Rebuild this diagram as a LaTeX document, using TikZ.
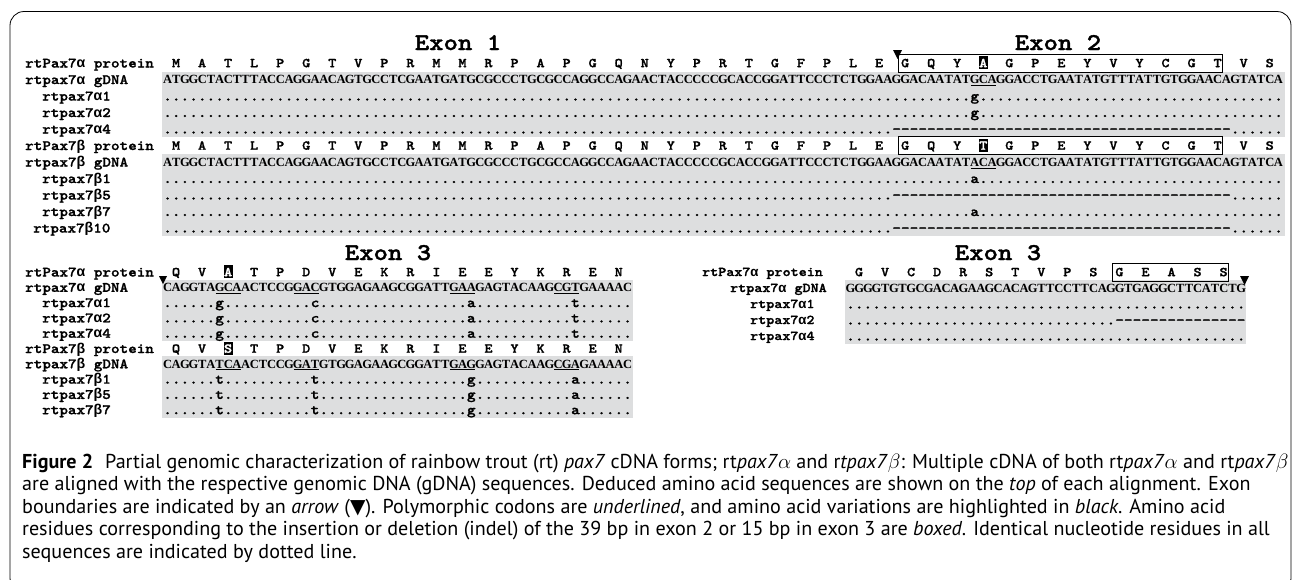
\documentclass[tikz,border=0pt]{standalone}
\usepackage{fontspec}
\newfontfamily\monof{lmmonolt10-bold}[Extension=.otf, FakeStretch=1.143, FakeBold=1.5]
\newfontfamily\grkf{Liberation Mono}
\newfontfamily\serfam{Liberation Serif}
\newfontfamily\capfont{PT Sans}
\newfontfamily\symfont{DejaVu Sans}
\newcommand\ga{{\grkf\bfseries α}}
\newcommand\gb{{\grkf\bfseries β}}
\definecolor{seqgray}{RGB}{221,222,223}
\newlength\pitch \setlength\pitch{8.68pt}
\newcommand\gcell[1]{\makebox[\pitch][c]{#1}}
\newcommand\rpt[2]{\foreach\k in {1,...,#1}{\gcell{#2}}}
\def\gridchars#1{\gridloop#1\relax}
\def\gridloop#1{\ifx#1\relax\else\gcell{#1}\expandafter\gridloop\fi}
\tikzset{
 lbl/.style={anchor=base west, inner sep=0pt, font=\monof\fontsize{14.3}{16}\selectfont},
 lblsm/.style={anchor=base west, inner sep=0pt, font=\monof\fontsize{13.4}{15}\selectfont},
 seqtxt/.style={anchor=base west, inner sep=0pt, font=\serfam\bfseries\fontsize{12.5}{14}\selectfont},
 vartxt/.style={anchor=base west, inner sep=0pt, font=\monof\fontsize{14.4}{16}\selectfont},
 aa/.style={anchor=base, inner sep=0pt, font=\monof\fontsize{13.5}{16}\selectfont},
 aahl/.style={aa, text=white},
 extitle/.style={anchor=base, inner sep=0pt, font=\monof\fontsize{24}{28}\selectfont},
 band/.style={fill=seqgray},
 indelbox/.style={draw=black, line width=0.9pt},
 uline/.style={line width=1pt},
 tri/.style={fill=black},
 captxt/.style={anchor=base west, inner sep=0pt, font=\capfont\fontsize{20.1}{23}\selectfont},
}
\newcommand\protrow[4]{\foreach \a [count=\i] in {#4} \node[aa] (#1\i) at ({#2+(\i-0.5)*26.04},{#3+4.2}) {\a};}
\newcommand\hlaa[5]{\fill ({#2+(#4-0.5)*26.04-4.6},{#3-7}) rectangle ({#2+(#4-0.5)*26.04+4.6},{#3+6});
 \node[aahl] (#1) at ({#2+(#4-0.5)*26.04},{#3+4.2}) {#5};}
\newcommand\uln[3]{\draw[uline] ({#1+(#3-1)*8.68+0.5},{#2+6}) -- ({#1+(#3+2)*8.68-0.5},{#2+6});}
\newcommand\indel[4]{\draw[indelbox] ({#1+(#3-0.5)*26.04-6.5},{#2-9}) rectangle ({#1+(#4-0.5)*26.04+4.5},{#2+9});}
\begin{document}
\begin{tikzpicture}[x=1pt,y=-1pt]
\useasboundingbox (0,0) rectangle (1293,579);
\draw[line width=0.8pt, rounded corners=14pt] (10,11.5) rectangle (1291,592);
% ---------- top block ----------
\fill[band] (162,71.5) rectangle (1285,137);
\fill[band] (162,154) rectangle (1285,236);
\node[extitle] (ex1) at (458,50) {Exon 1};
\node[extitle] (ex2) at (1058,50) {Exon 2};
\node[lbl] (l1) at (25,67.5) {rtPax7\ga{} protein};
\node[lbl] (l2) at (25,84) {rtpax7\ga{} gDNA};
\node[lbl] (l3) at (42,100.5) {rtpax7\ga1};
\node[lbl] (l4) at (42,117) {rtpax7\ga2};
\node[lbl] (l5) at (42,133.5) {rtpax7\ga4};
\node[lbl] (l6) at (25,150) {rtPax7\gb{} protein};
\node[lbl] (l7) at (25,166.5) {rtpax7\gb{} gDNA};
\node[lbl] (l8) at (42,183) {rtpax7\gb1};
\node[lbl] (l9) at (42,199.5) {rtpax7\gb5};
\node[lbl] (l10) at (42,216) {rtpax7\gb7};
\node[lbl] (l11) at (33,232.5) {rtpax7\gb10};
\protrow{tpa}{163}{63}{M,A,T,L,P,G,T,V,P,R,M,M,R,P,A,P,G,Q,N,Y,P,R,T,G,F,P,L,E,G,Q,Y,A,G,P,E,Y,V,Y,C,G,T,V,S}
\hlaa{tpah}{163}{63}{32}{A}
\indel{163}{63}{29}{41}
\node[seqtxt] (tga) at (163,83.8) {\gridchars{ATGGCTACTTTACCAGGAACAGTGCCTCGAATGATGCGCCCTGCGCCAGGCCAGAACTACCCCCGCACCGGATTCCCTCTGGAAGGACAATATGCAGGACCTGAATATGTTTATTGTGGAACAGTATCA}};
\uln{163}{79.5}{94}
\node[vartxt] (ta1) at (163,100.5) {\rpt{93}{.}\gcell{g}\rpt{35}{.}};
\node[vartxt] (ta2) at (163,117) {\rpt{93}{.}\gcell{g}\rpt{35}{.}};
\node[vartxt] (ta4) at (163,133.5) {\rpt{84}{.}\rpt{39}{-}\rpt{6}{.}};
\protrow{tpb}{163}{145.5}{M,A,T,L,P,G,T,V,P,R,M,M,R,P,A,P,G,Q,N,Y,P,R,T,G,F,P,L,E,G,Q,Y,T,G,P,E,Y,V,Y,C,G,T,V,S}
\hlaa{tpbh}{163}{145.5}{32}{T}
\indel{163}{145.5}{29}{41}
\node[seqtxt] (tgb) at (163,166.3) {\gridchars{ATGGCTACTTTACCAGGAACAGTGCCTCGAATGATGCGCCCTGCGCCAGGCCAGAACTACCCCCGCACCGGATTCCCTCTGGAAGGACAATATACAGGACCTGAATATGTTTATTGTGGAACAGTATCA}};
\uln{163}{162}{94}
\node[vartxt] (tb1) at (163,183) {\rpt{93}{.}\gcell{a}\rpt{35}{.}};
\node[vartxt] (tb5) at (163,199.5) {\rpt{84}{.}\rpt{39}{-}\rpt{6}{.}};
\node[vartxt] (tb7) at (163,216) {\rpt{93}{.}\gcell{a}\rpt{35}{.}};
\node[vartxt] (tb10) at (163,232.5) {\rpt{84}{.}\rpt{39}{-}\rpt{6}{.}};
\fill[tri] (893,50) -- (902,50) -- (897.5,59) -- cycle;
% ---------- bottom left block ----------
\fill[band] (162,280) rectangle (633,341);
\fill[band] (162,356) rectangle (633,417.5);
\node[extitle] (ex3a) at (388,260) {Exon 3};
\node[lbl] (m1) at (25,276.5) {rtPax7\ga{} protein};
\node[lbl] (m2) at (25,291.8) {rtpax7\ga{} gDNA};
\node[lbl] (m3) at (42,307.1) {rtpax7\ga1};
\node[lbl] (m4) at (42,322.4) {rtpax7\ga2};
\node[lbl] (m5) at (42,337.7) {rtpax7\ga4};
\node[lbl] (m6) at (25,353) {rtPax7\gb{} protein};
\node[lbl] (m7) at (25,368.3) {rtpax7\gb{} gDNA};
\node[lbl] (m8) at (42,383.6) {rtpax7\gb1};
\node[lbl] (m9) at (42,398.9) {rtpax7\gb5};
\node[lbl] (m10) at (42,414.2) {rtpax7\gb7};
\protrow{lpa}{163}{272}{Q,V,A,T,P,D,V,E,K,R,I,E,E,Y,K,R,E,N}
\hlaa{lpah}{163}{272}{3}{A}
\node[seqtxt] (lga) at (163,291.6) {\gridchars{CAGGTAGCAACTCCGGACGTGGAGAAGCGGATTGAAGAGTACAAGCGTGAAAAC}};
\uln{163}{287.3}{7}\uln{163}{287.3}{16}\uln{163}{287.3}{34}\uln{163}{287.3}{46}
\node[vartxt] (la1) at (163,307.1) {\rpt{6}{.}\gcell{g}\rpt{10}{.}\gcell{c}\rpt{17}{.}\gcell{a}\rpt{11}{.}\gcell{t}\rpt{6}{.}};
\node[vartxt] (la2) at (163,322.4) {\rpt{6}{.}\gcell{g}\rpt{10}{.}\gcell{c}\rpt{17}{.}\gcell{a}\rpt{11}{.}\gcell{t}\rpt{6}{.}};
\node[vartxt] (la4) at (163,337.7) {\rpt{6}{.}\gcell{g}\rpt{10}{.}\gcell{c}\rpt{17}{.}\gcell{a}\rpt{11}{.}\gcell{t}\rpt{6}{.}};
\protrow{lpb}{163}{348.5}{Q,V,S,T,P,D,V,E,K,R,I,E,E,Y,K,R,E,N}
\hlaa{lpbh}{163}{348.5}{3}{S}
\node[seqtxt] (lgb) at (163,368.1) {\gridchars{CAGGTATCAACTCCGGATGTGGAGAAGCGGATTGAGGAGTACAAGCGAGAAAAC}};
\uln{163}{363.8}{7}\uln{163}{363.8}{16}\uln{163}{363.8}{34}\uln{163}{363.8}{46}
\node[vartxt] (lb1) at (163,383.6) {\rpt{6}{.}\gcell{t}\rpt{10}{.}\gcell{t}\rpt{17}{.}\gcell{g}\rpt{11}{.}\gcell{a}\rpt{6}{.}};
\node[vartxt] (lb5) at (163,398.9) {\rpt{6}{.}\gcell{t}\rpt{10}{.}\gcell{t}\rpt{17}{.}\gcell{g}\rpt{11}{.}\gcell{a}\rpt{6}{.}};
\node[vartxt] (lb7) at (163,414.2) {\rpt{6}{.}\gcell{t}\rpt{10}{.}\gcell{t}\rpt{17}{.}\gcell{g}\rpt{11}{.}\gcell{a}\rpt{6}{.}};
\fill[tri] (159,276) -- (167,276) -- (163,284) -- cycle;
% ---------- bottom right block ----------
\fill[band] (845,280) rectangle (1246,344);
\node[extitle] (ex3b) at (998,260) {Exon 3};
\node[lblsm] (r1) at (702,276) {rtPax7\ga{} protein};
\node[lblsm] (r2) at (730,292) {rtpax7\ga{} gDNA};
\node[lblsm] (r3) at (750,308) {rtpax7\ga1};
\node[lblsm] (r4) at (750,324) {rtpax7\ga2};
\node[lblsm] (r5) at (750,340) {rtpax7\ga4};
\protrow{rpa}{846}{272}{G,V,C,D,R,S,T,V,P,S,G,E,A,S,S}
\indel{846}{272}{11}{15}
\node[seqtxt] (rga) at (846,292.3) {\gridchars{GGGGTGTGCGACAGAAGCACAGTTCCTTCAGGTGAGGCTTCATCTG}};
\node[vartxt] (ra1) at (846,308.5) {\rpt{46}{.}};
\node[vartxt] (ra2) at (846,324.5) {\rpt{31}{.}\rpt{15}{-}};
\node[vartxt] (ra4) at (846,340.5) {\rpt{46}{.}};
\fill[tri] (1240,276) -- (1249,276) -- (1244.5,285) -- cycle;
% ---------- caption ----------
\node[captxt] (c1) at (22,468) {\textbf{Figure 2}\hspace{0.6em}Partial genomic characterization of rainbow trout (rt) \textit{pax7} cDNA forms; rt\textit{pax7}$\alpha$ and r\textit{tpax7}$\beta$: Multiple cDNA of both rt\textit{pax7}$\alpha$ and rt\textit{pax7}$\beta$};
\node[captxt] (c2) at (22,490.5) {are aligned with the respective genomic DNA (gDNA) sequences. Deduced amino acid sequences are shown on the \textit{top} of each alignment. Exon};
\node[captxt] (c3) at (22,513) {boundaries are indicated by an \textit{arrow} ({\symfont ▼}). Polymorphic codons are \textit{underlined}, and amino acid variations are highlighted in \textit{black}. Amino acid};
\node[captxt] (c4) at (22,535.5) {residues corresponding to the insertion or deletion (indel) of the 39 bp in exon 2 or 15 bp in exon 3 are \textit{boxed}. Identical nucleotide residues in all};
\node[captxt] (c5) at (22,558) {sequences are indicated by dotted line.};
\end{tikzpicture}
\end{document}
